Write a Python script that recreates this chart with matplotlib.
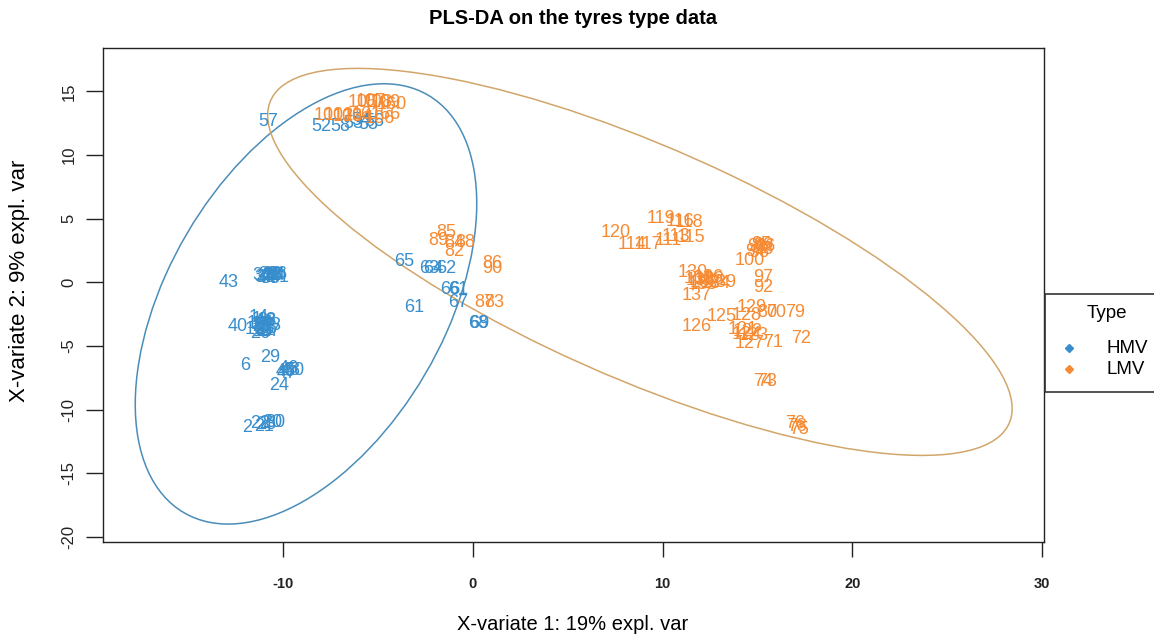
import numpy as np
import matplotlib
matplotlib.use("Agg")
import matplotlib.pyplot as plt
from matplotlib.patches import Ellipse, Rectangle

plt.rcParams['font.family'] = ['Liberation Sans', 'DejaVu Sans']
plt.rcParams['axes.unicode_minus'] = False

# sample labels and their PLS-DA scores
hmv_ids = ['57', '52', '58', '53', '54', '55', '56',
           '43', '31', '32', '33', '34', '35', '36', '37', '38', '39', '41', '42', '44',
           '40', '1', '3', '4', '5', '7', '8', '9', '10', '11', '12', '13', '14', '15',
           '16', '17', '18', '19', '25', '26', '27', '28',
           '6', '29', '24', '45', '46', '47', '48', '50',
           '2', '20', '21', '22', '23', '30',
           '65', '63', '64', '62', '66', '61', '61', '67', '68', '69']
hmv_x = [-10.8, -8.0, -7.0, -6.3, -5.9, -5.5, -5.2,
         -12.9, -11.1, -10.9, -10.6, -10.4, -10.7, -10.3, -11.0, -10.5, -10.8, -10.2, -10.6, -10.9,
         -12.4, -11.4, -11.1, -10.8, -11.3, -11.0, -10.7, -11.2, -11.5, -10.9, -11.0, -10.6, -11.3, -11.1,
         -10.8, -11.2, -10.9, -11.4, -11.0, -11.2, -10.7, -11.1,
         -12.0, -10.7, -10.2, -9.9, -9.7, -9.8, -9.6, -9.4,
         -11.9, -10.6, -11.0, -11.2, -10.9, -10.4,
         -3.6, -2.3, -2.1, -1.4, -1.2, -0.8, -3.1, -0.8, 0.3, 0.35]
hmv_y = [12.6, 12.2, 12.2, 12.5, 12.7, 12.4, 12.6,
         0.0, 0.5, 0.4, 0.6, 0.5, 0.3, 0.6, 0.4, 0.5, 0.6, 0.4, 0.5, 0.3,
         -3.5, -2.9, -3.0, -3.2, -3.4, -3.3, -3.1, -3.6, -3.7, -3.8, -3.5, -3.4, -2.8, -3.9,
         -3.6, -3.3, -3.0, -3.2, -3.7, -4.0, -3.9, -3.5,
         -6.5, -5.9, -8.1, -7.0, -6.8, -7.2, -6.9, -6.9,
         -11.4, -11.0, -11.3, -11.1, -11.2, -11.0,
         1.65, 1.1, 1.1, 1.1, -0.6, -0.6, -2.0, -1.6, -3.2, -3.2]

lmv_ids = ['101', '102', '103', '104', '105', '106', '107', '108', '109', '160', '161', '166',
           '85', '89', '84', '88', '82', '86', '90', '87', '83',
           '120', '119', '116', '118', '113', '115', '114', '117', '111',
           '91', '93', '94', '95', '96', '98', '99', '100', '97', '92',
           '130', '131', '132', '133', '134', '135', '136', '138', '139', '137',
           '129', '80', '70', '79', '125', '128', '126',
           '121', '122', '123', '124', '127', '71', '72',
           '74', '73', '75', '76', '78']
lmv_x = [-7.6, -7.1, -6.6, -6.1, -5.8, -4.9, -5.4, -5.0, -4.6, -4.3, -5.6, -4.6,
         -1.4, -1.8, -1.0, -0.4, -1.0, 1.0, 1.0, 0.6, 1.1,
         7.5, 9.9, 10.9, 11.4, 10.7, 11.5, 8.4, 9.2, 10.3,
         15.0, 15.3, 14.9, 15.2, 15.4, 15.1, 15.3, 14.6, 15.3, 15.3,
         11.6, 11.9, 12.2, 12.5, 12.8, 12.1, 12.4, 12.0, 13.1, 11.8,
         14.7, 15.5, 16.0, 17.0, 13.1, 14.4, 11.8,
         14.2, 14.5, 14.8, 14.4, 14.6, 15.8, 17.3,
         15.3, 15.5, 17.2, 17.0, 17.1]
lmv_y = [13.1, 13.1, 13.0, 13.0, 14.1, 12.9, 14.2, 14.1, 14.1, 14.0, 13.2, 13.2,
         3.9, 3.3, 3.1, 3.1, 2.4, 1.5, 1.1, -1.6, -1.6,
         3.9, 5.0, 4.8, 4.7, 3.6, 3.5, 3.0, 3.0, 3.3,
         2.8, 2.6, 2.4, 3.0, 2.8, 2.3, 2.9, 1.7, 0.4, -0.4,
         0.8, 0.3, 0.0, 0.2, -0.1, -0.2, 0.4, 0.1, 0.0, -1.0,
         -2.0, -2.4, -2.4, -2.4, -2.7, -2.6, -3.5,
         -3.7, -3.9, -4.2, -4.1, -4.8, -4.7, -4.4,
         -7.8, -7.8, -11.6, -11.1, -11.3]

# confidence ellipses: centre and covariance-like shape
hmv_centre = (-8.8, -1.7)
hmv_shape = [[81.0, 71.0], [71.0, 299.0]]
lmv_centre = (8.8, 1.6)
lmv_shape = [[385.0, -226.0], [-226.0, 231.0]]

groups = ['HMV', 'LMV']
colors = ['#388ECC', '#F68B33']
ellipse_colors = ['#4a8db8', '#d2a66a']

fig = plt.figure(figsize=(11.54, 6.41), dpi=100)
ax = fig.add_axes([103/1154, 1 - 542/641, (1044-103)/1154, (542-48)/641])

for ids, xs, ys, c in [(hmv_ids, hmv_x, hmv_y, colors[0]), (lmv_ids, lmv_x, lmv_y, colors[1])]:
    for lab, x, y in zip(ids, xs, ys):
        ax.text(x, y, lab, color=c, fontsize=13, ha='center', va='center')

for centre, shape, c in [(hmv_centre, hmv_shape, ellipse_colors[0]), (lmv_centre, lmv_shape, ellipse_colors[1])]:
    vals, vecs = np.linalg.eigh(np.array(shape))
    angle = np.degrees(np.arctan2(vecs[1, 1], vecs[0, 1]))
    ax.add_patch(Ellipse(centre, 2*np.sqrt(vals[1]), 2*np.sqrt(vals[0]), angle=angle,
                         fill=False, edgecolor=c, lw=1.1))

ax.set_xlim(-19.5, 30.1)
ax.set_ylim(-20.4, 18.4)
ax.set_xticks([-10, 0, 10, 20, 30])
ax.set_yticks([-20, -15, -10, -5, 0, 5, 10, 15])
ax.tick_params(axis='x', length=11, width=1, pad=14, labelsize=10.5, colors='#222222')
ax.tick_params(axis='y', length=12, width=1, pad=7, labelsize=12, colors='#222222', labelrotation=90)
for lab in ax.get_xticklabels():
    lab.set_fontweight('bold')
for lab in ax.get_yticklabels():
    lab.set_va('center')
for s in ax.spines.values():
    s.set_color('#222222')
    s.set_linewidth(1)

fig.text(573/1154, 1 - 18/641, 'PLS-DA on the tyres type data', ha='center', va='center',
         fontsize=14.5, fontweight='bold')
fig.text(573/1154, 1 - 625/641, 'X-variate 1: 19% expl. var', ha='center', va='center', fontsize=14.5)
fig.text(20/1154, 1 - 281/641, 'X-variate 2: 9% expl. var', ha='center', va='center', fontsize=16,
         rotation=90)

# legend box sits outside the plot, cut by the figure edge
fig.patches.append(Rectangle((1045/1154, 1 - 392/641), 120/1154, 98/641, transform=fig.transFigure,
                             fill=False, edgecolor='#333333', lw=1.2, clip_on=False))
fig.text(1107/1154, 1 - 313/641, 'Type', ha='center', va='center', fontsize=13.5)
for i, (g, c) in enumerate(zip(groups, colors)):
    yy = 1 - (348 + 21*i)/641
    fig.lines.append(plt.Line2D([1069/1154], [yy], marker='D', markersize=4.5, color=c,
                                transform=fig.transFigure))
    fig.text(1107/1154, yy, g, ha='left', va='center', fontsize=13.5)

fig.savefig('out.png', dpi=100)
